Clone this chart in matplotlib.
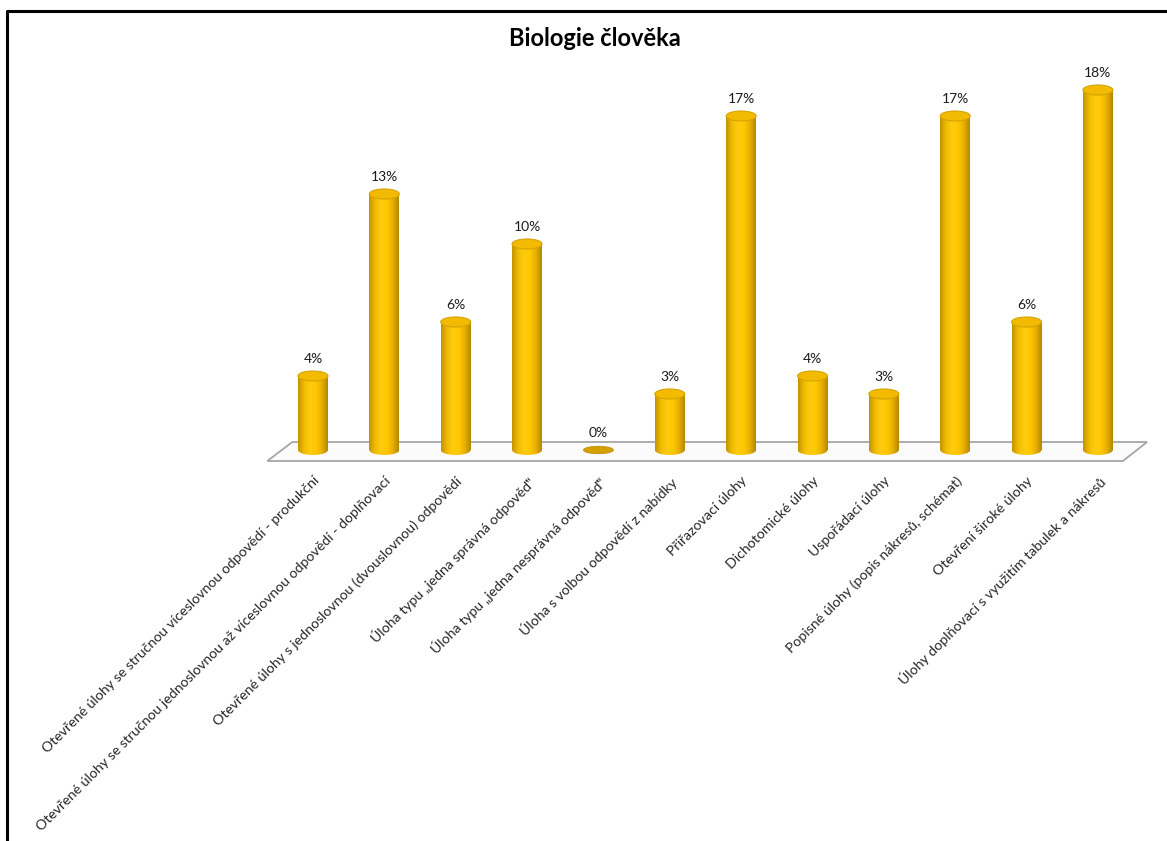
import numpy as np
import matplotlib
matplotlib.use("Agg")
import matplotlib.pyplot as plt
from matplotlib.patches import Ellipse, Polygon
from matplotlib.colors import LinearSegmentedColormap
from matplotlib.lines import Line2D

plt.rcParams['font.family'] = ['Lato', 'DejaVu Sans']

# data
categories = [
    "Otevřené úlohy se stručnou víceslovnou odpovědí - produkční",
    "Otevřené úlohy se stručnou jednoslovnou až víceslovnou odpovědí - doplňovací",
    "Otevřené úlohy s jednoslovnou (dvouslovnou) odpovědí",
    "Úloha typu „jedna správná odpověď“",
    "Úloha typu „jedna nesprávná odpověď“",
    "Úloha s volbou odpovědí z nabídky",
    "Přiřazovací úlohy",
    "Dichotomické úlohy",
    "Uspořádací úlohy",
    "Popisné úlohy (popis nákresů, schémat)",
    "Otevření široké úlohy",
    "Úlohy doplňovací s využitím tabulek a nákresů",
]
values = [3.7, 12.8, 6.4, 10.3, 0.0, 2.8, 16.7, 3.7, 2.8, 16.7, 6.4, 18.0]
title = "Biologie člověka"

W, H = 1167, 841
fig = plt.figure(figsize=(W / 100, H / 100), dpi=100)
ax = fig.add_axes([255.9 / W, 361 / H, 899.1 / W, 420 / H])
xlim = (-0.8, 11.8)
ylim = (-1.5, 19.5)

bar_w = 0.42
ell_h = 0.5
cyl = LinearSegmentedColormap.from_list(
    "cyl", ["#C49400", "#F0BC00", "#FFCB10", "#FFC800", "#E8B000", "#B58700"])
grad = np.linspace(0, 1, 64).reshape(1, -1)

# floor
floor = Polygon([(-0.64, -0.55), (11.35, -0.55), (11.69, 0.4), (-0.29, 0.4)],
                closed=True, facecolor="#FBFBFB", edgecolor="#A6A6A6", lw=1.3, zorder=1)
ax.add_patch(floor)

x = np.arange(len(categories))
for i, v in enumerate(values):
    if v <= 0:
        ax.add_patch(Ellipse((i, 0), bar_w, ell_h * 0.75, facecolor="#D4A000",
                             edgecolor="#B88A00", lw=0.5, zorder=3))
    else:
        bar = ax.bar(i, v, width=bar_w, bottom=0, color="none", edgecolor="none", zorder=3)[0]
        img = ax.imshow(grad, cmap=cyl, aspect="auto", zorder=3,
                        extent=(i - bar_w / 2, i + bar_w / 2, -ell_h, v))
        img.set_clip_path(bar)
        bot = Ellipse((i, 0), bar_w, ell_h, facecolor="none", edgecolor="none", zorder=3)
        ax.add_patch(bot)
        img2 = ax.imshow(grad, cmap=cyl, aspect="auto", zorder=3,
                         extent=(i - bar_w / 2, i + bar_w / 2, -ell_h, v))
        img2.set_clip_path(bot)
        ax.add_patch(Ellipse((i, v), bar_w, ell_h, facecolor="#F2BA00",
                             edgecolor="#D6A400", lw=0.8, zorder=4))
    ax.annotate(f"{v:.0f}%", (i, v + ell_h / 2), xytext=(0, 4), textcoords="offset points",
                ha="center", va="bottom", fontsize=10, color="#1a1a1a", zorder=5)

ax.set_xlim(*xlim)
ax.set_ylim(*ylim)
ax.set_xticks(x)
ax.set_xticklabels(categories, rotation=45, ha="right", va="top",
                   rotation_mode="anchor", fontsize=10.2, color="#262626")
ax.tick_params(axis="x", length=0, pad=-4)
ax.set_yticks([])
for s in ax.spines.values():
    s.set_visible(False)
ax.patch.set_visible(False)

fig.text(595 / W, 1 - 38 / H, title, ha="center", va="center",
         fontsize=17, fontweight="bold", color="#000000")

# frame (left and top edges visible)
fig.add_artist(Line2D([7 / W, 7 / W, 1.0], [0.0, 1 - 11 / H, 1 - 11 / H],
                      transform=fig.transFigure, color="black", lw=2.2))

fig.savefig("out.png", dpi=100)
